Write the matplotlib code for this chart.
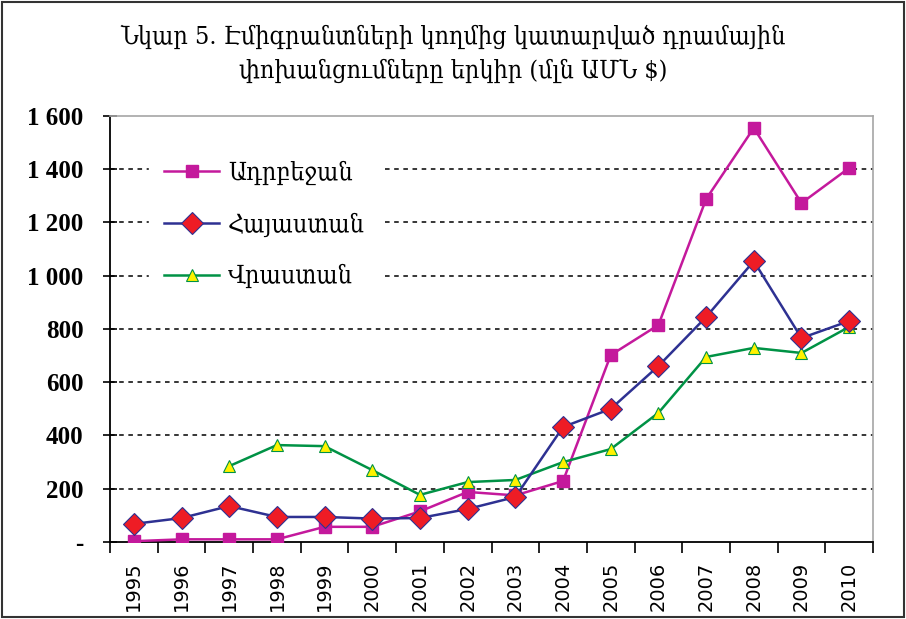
import numpy as np
import matplotlib.pyplot as plt
from matplotlib.patches import Rectangle
from matplotlib.ticker import FuncFormatter

years = ['1995', '1996', '1997', '1998', '1999', '2000', '2001', '2002',
         '2003', '2004', '2005', '2006', '2007', '2008', '2009', '2010']
azerbaijan = [3, 10, 10, 10, 57, 57, 115, 188, 175, 229, 702, 815, 1288, 1555, 1273, 1405]
armenia = [68, 90, 135, 94, 94, 88, 90, 124, 169, 432, 500, 661, 845, 1055, 766, 830]
georgia = [np.nan, np.nan, 285, 364, 360, 270, 177, 225, 233, 300, 349, 485, 695, 729, 710, 808]
series_names = ['Ադրբեջան', 'Հայաստան', 'Վրաստան']
title = 'Նկար 5. Էմիգրանտների կողմից կատարված դրամային\nփոխանցումները երկիր (մլն ԱՄՆ $)'

serif = ['Liberation Serif', 'DejaVu Serif']
arm = ['DejaVu Serif', 'Liberation Serif']

fig = plt.figure(figsize=(9.06, 6.19), dpi=100)
ax = fig.add_axes([0.1214, 0.1244, 0.8422, 0.6882])

x = np.arange(len(years))
ax.plot(x, azerbaijan, color='#C4199C', lw=1.8, marker='s', ms=8,
        mfc='#C4199C', mec='#C4199C', label=series_names[0], zorder=3)
ax.plot(x, armenia, color='#2E3192', lw=1.8, marker='D', ms=11,
        mfc='#EE1C25', mec='#2E3192', mew=0.8, label=series_names[1], zorder=4)
ax.plot(x, georgia, color='#009245', lw=1.8, marker='^', ms=8,
        mfc='#FFF200', mec='#009245', mew=0.8, label=series_names[2], zorder=3)

ax.set_xlim(-0.5, 15.5)
ax.set_ylim(0, 1600)
ax.set_yticks(np.arange(0, 1601, 200))
ax.yaxis.set_major_formatter(FuncFormatter(
    lambda v, p: '-' if v == 0 else '{:,.0f}'.format(v).replace(',', ' ')))
for v in range(200, 1600, 200):
    ax.axhline(v, color='black', lw=1.1, ls=(0, (3, 3)), zorder=1)

ax.set_xticks(x)
ax.set_xticklabels(years, rotation=90, family='DejaVu Sans', fontsize=14)
ax.set_xticks(np.arange(-0.5, 16, 1), minor=True)
ax.tick_params(axis='x', which='major', length=0, pad=14)
ax.tick_params(axis='x', which='minor', length=8, width=1.2, direction='out')
ax.tick_params(axis='y', length=10, width=1.2, direction='inout', pad=14)
for lab in ax.get_yticklabels():
    lab.set_family(serif)
    lab.set_fontsize(18)
    lab.set_fontweight('bold')

ax.spines['left'].set_linewidth(1.3)
ax.spines['bottom'].set_linewidth(1.3)
for s in ['top', 'right']:
    ax.spines[s].set_color('#A6A6A6')
    ax.spines[s].set_linewidth(1.2)

leg = ax.legend(loc='upper left', bbox_to_anchor=(0.035, 0.96), frameon=True,
                fancybox=False, edgecolor='white', framealpha=1,
                prop={'family': arm, 'size': 18, 'stretch': 'condensed'},
                handlelength=2.2, handletextpad=0.35,
                labelspacing=1.1, borderpad=0.6)
leg.set_zorder(5)

fig.text(0.5, 0.913, title, ha='center', va='center', fontsize=18,
         family=arm, fontstretch='condensed', linespacing=1.5)

fig.patches.append(Rectangle((0.002, 0.003), 0.996, 0.994, transform=fig.transFigure,
                             fill=False, edgecolor='#333333', lw=1.5))

fig.savefig('out.png', dpi=100)
